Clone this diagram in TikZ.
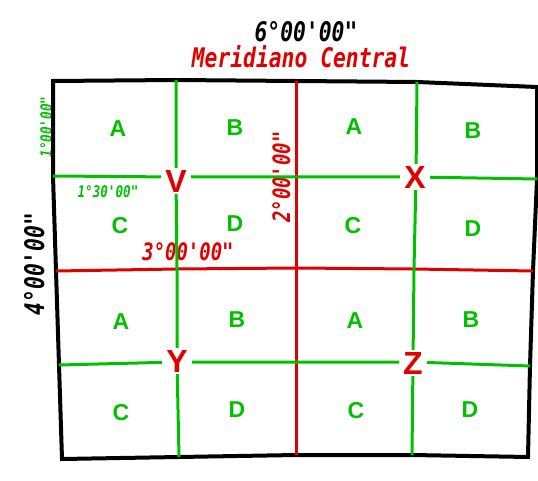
\documentclass[tikz,border=0pt]{standalone}
\usepackage{fontspec}
\usepackage{xcolor}
\definecolor{cGreen}{HTML}{00C000}
\definecolor{cRed}{HTML}{E00000}
\newfontfamily\degfont[FakeStretch=0.79]{DejaVu Sans Mono Bold Oblique}
\newfontfamily\cellfont{Liberation Sans}
\usepackage{tikz}
\tikzset{
  frame-line/.style={draw=black,line width=4pt,line join=miter},
  grid-green/.style={draw=cGreen,line width=3pt},
  grid-red/.style={draw=cRed,line width=3pt},
  cell-label/.style={text=cGreen,inner sep=0pt,
    font=\cellfont\bfseries\fontsize{23}{23}\selectfont},
  point-label/.style={text=cRed,fill=white,inner xsep=4pt,inner ysep=2pt,
    font=\cellfont\bfseries\fontsize{32}{32}\selectfont},
  % rotulos de graus: anchor=base para alinhar pela linha de base
  deg-big/.style={anchor=base,inner sep=0pt,font=\degfont\fontsize{27}{27}\selectfont},
  deg-mid/.style={anchor=base,inner sep=0pt,font=\degfont\fontsize{24}{24}\selectfont},
  deg-small/.style={anchor=base,inner sep=0pt,font=\degfont\fontsize{16}{16}\selectfont},
}
\begin{document}
\begin{tikzpicture}[x=1pt,y=-1pt]
  \useasboundingbox (0,0) rectangle (538,481);
  % pontos da quadricula (linha r, coluna c)
  \coordinate (r0c0) at (53,81);  \coordinate (r0c1) at (176,80);
  \coordinate (r0c2) at (296,81); \coordinate (r0c3) at (417,82);
  \coordinate (r0c4) at (537,87);
  \coordinate (r1c0) at (53,176);  \coordinate (r1c1) at (176,177);
  \coordinate (r1c2) at (296,177); \coordinate (r1c3) at (416,177);
  \coordinate (r1c4) at (537,179);
  \coordinate (r2c0) at (56,271);  \coordinate (r2c1) at (177,269);
  \coordinate (r2c2) at (296,268); \coordinate (r2c3) at (414,269);
  \coordinate (r2c4) at (533,271);
  \coordinate (r3c0) at (59,365);  \coordinate (r3c1) at (177,362);
  \coordinate (r3c2) at (296,362); \coordinate (r3c3) at (413,362);
  \coordinate (r3c4) at (530,366);
  \coordinate (r4c0) at (62,459);  \coordinate (r4c1) at (179,457);
  \coordinate (r4c2) at (296,455); \coordinate (r4c3) at (412,455);
  \coordinate (r4c4) at (528,457);

  % rotulos de graus
  \node[deg-big] (lon) at (306,42) {6°00'00"};
  \node[deg-big,text=cRed] (mc) at (301,68) {Meridiano Central};
  \node[deg-big,rotate=90] (lat) at (44,264) {4°00'00"};
  \node[deg-mid,rotate=90,text=cRed] (half-lon) at (290,177) {2°00'00"};
  \node[deg-mid,text=cRed] (half-lat) at (188,260) {3°00'00"};
  \node[deg-small,rotate=90,text=cGreen] (q-lon) at (52,127) {1°00'00"};
  \node[deg-small,text=cGreen] (q-lat) at (108,197) {1°30'00"};

  % moldura
  \draw[frame-line] (r0c0) -- (r0c1) -- (r0c2) -- (r0c3) -- (r0c4)
    -- (r1c4) -- (r2c4) -- (r3c4) -- (r4c4)
    -- (r4c3) -- (r4c2) -- (r4c1) -- (r4c0)
    -- (r3c0) -- (r2c0) -- (r1c0) -- cycle;

  % divisoes
  \draw[grid-red] (r0c2) -- (r1c2) -- (r2c2) -- (r3c2) -- (r4c2);
  \draw[grid-red] (r2c0) -- (r2c1) -- (r2c2) -- (r2c3) -- (r2c4);
  \draw[grid-green] (r0c1) -- (r1c1) -- (r2c1) -- (r3c1) -- (r4c1);
  \draw[grid-green] (r0c3) -- (r1c3) -- (r2c3) -- (r3c3) -- (r4c3);
  \draw[grid-green] (r1c0) -- (r1c1) -- (r1c2) -- (r1c3) -- (r1c4);
  \draw[grid-green] (r3c0) -- (r3c1) -- (r3c2) -- (r3c3) -- (r3c4);

  % folhas
  \node[cell-label] (a1) at (118,129) {A};
  \node[cell-label] (b1) at (235,128) {B};
  \node[cell-label] (a2) at (354,127) {A};
  \node[cell-label] (b2) at (473,131) {B};
  \node[cell-label] (c1) at (120,226) {C};
  \node[cell-label] (d1) at (235,224) {D};
  \node[cell-label] (c2) at (353,226) {C};
  \node[cell-label] (d2) at (473,229) {D};
  \node[cell-label] (a3) at (121,322) {A};
  \node[cell-label] (b3) at (237,320) {B};
  \node[cell-label] (a4) at (355,321) {A};
  \node[cell-label] (b4) at (471,320) {B};
  \node[cell-label] (c3) at (121,413) {C};
  \node[cell-label] (d3) at (237,410) {D};
  \node[cell-label] (c4) at (356,411) {C};
  \node[cell-label] (d4) at (470,410) {D};

  % vertices
  \node[point-label] (v) at (176,181) {V};
  \node[point-label] (x) at (415,177) {X};
  \node[point-label] (y) at (177,361) {Y};
  \node[point-label] (z) at (413,363) {Z};
\end{tikzpicture}
\end{document}
